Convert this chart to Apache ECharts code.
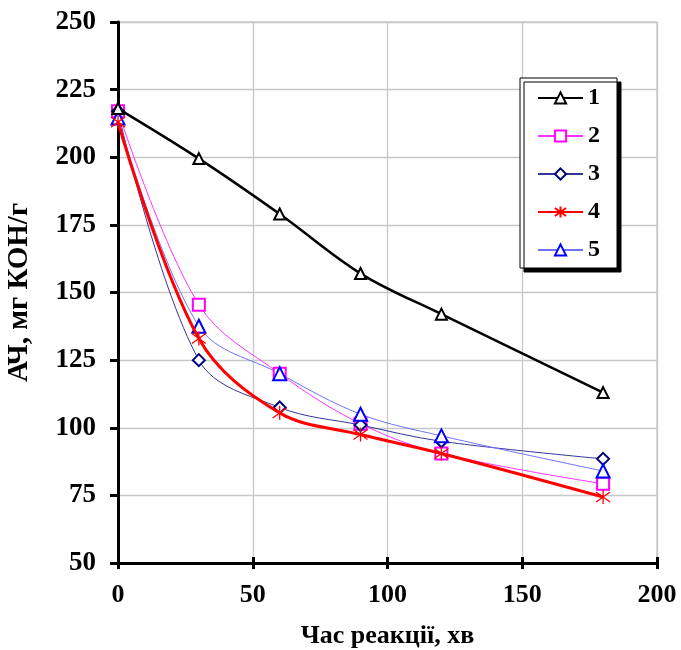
<!DOCTYPE html>
<html><head><meta charset="utf-8">
<script src="https://cdn.jsdelivr.net/npm/echarts@6/dist/echarts.min.js"></script>
<style>html,body{margin:0;padding:0;background:#fff}#c{width:681px;height:650px}</style>
</head><body><div id="c"></div>
<script>
const times = [0, 30, 60, 90, 120, 180];
const s1 = [218, 199.5, 179, 157, 142, 113];
const s2 = [217, 145.5, 120, 101.5, 90.5, 79.3];
const s3 = [217, 125, 107.5, 101, 95, 88.5];
const s4 = [213, 133, 105.5, 97.5, 90.5, 74.4];
const s5 = [214.5, 137.5, 120, 105, 97, 84];
const seriesNames = ['1', '2', '3', '4', '5'];
const yTicks = [50, 75, 100, 125, 150, 175, 200, 225, 250];
const xTicks = [0, 50, 100, 150, 200];

const font = 'Liberation Serif';
const asterisk = 'path://M5,0 L5,10 M1.4,1.4 L8.6,8.6 M8.6,1.4 L1.4,8.6';
function pairs(arr){ return times.map((t,i)=>[t,arr[i]]); }

const chart = echarts.init(document.getElementById('c'), null, {renderer:'canvas'});
const mk = (name, data, lineColor, lineW, symbol, symColor, symSize, z) => ({
  name, type:'line', data: pairs(data), smooth: 0.35,
  lineStyle:{color: lineColor, width: lineW},
  symbol, symbolSize: symSize, z: z,
  itemStyle:{color: symColor, borderColor: symColor, borderWidth: 1.3},
  emphasis:{disabled:true}
});
const opt = {
  animation:false,
  grid:{left:118, right:24, top:22, bottom:87, show:true, borderColor:'#b0b0b0', borderWidth:1,
    containLabel:false, outerBoundsMode:'none'},
  xAxis:[{
    type:'value', min:0, max:200, interval:50,
    name:'Час реакції, хв', nameLocation:'middle', nameGap:60,
    nameTextStyle:{fontFamily:font, fontWeight:'bold', fontSize:26, color:'#000'},
    axisLine:{lineStyle:{color:'#000', width:3}},
    axisTick:{show:true, length:6, lineStyle:{color:'#000', width:3}},
    axisLabel:{fontFamily:font, fontWeight:'bold', fontSize:26, color:'#000', margin:19,
      formatter: v => xTicks.includes(v) ? String(v) : ''},
    splitLine:{show:true, lineStyle:{color:'#c8c8c8', width:1.3}}
  },{
    type:'value', min:0, max:200, interval:50, position:'bottom',
    axisLine:{show:false}, axisLabel:{show:false}, splitLine:{show:false},
    axisTick:{show:true, inside:true, length:6, lineStyle:{color:'#000', width:3}}
  }],
  yAxis:{
    type:'value', min:50, max:250, interval:25,
    name:'АЧ, мг КОН/г', nameLocation:'middle', nameGap:84,
    nameTextStyle:{fontFamily:font, fontWeight:'bold', fontSize:29, color:'#000'},
    axisLine:{show:true, lineStyle:{color:'#000', width:3}},
    axisTick:{show:true, length:8, lineStyle:{color:'#000', width:3}},
    axisLabel:{fontFamily:font, fontWeight:'bold', fontSize:27, color:'#000', margin:22,
      formatter: v => yTicks.includes(v) ? String(v) : ''},
    splitLine:{show:true, lineStyle:{color:'#c8c8c8', width:1.3}}
  },
  legend:{
    left:520, top:78, orient:'vertical',
    data: seriesNames,
    itemWidth:45, itemHeight:14, itemGap:14,
    padding:[8,17,6,17],
    backgroundColor:'#fff', borderColor:'#000', borderWidth:1,
    shadowColor:'#000', shadowBlur:0, shadowOffsetX:4, shadowOffsetY:4,
    textStyle:{fontFamily:font, fontWeight:'bold', fontSize:24, lineHeight:24, color:'#000'},
    selectedMode:false
  },
  series:[
    mk(seriesNames[0], s1, '#000', 2.5, 'emptyTriangle', '#000', 11, 5),
    mk(seriesNames[1], s2, '#ff33ff', 1, 'emptyRect', '#ff00ff', 12, 3),
    mk(seriesNames[2], s3, '#333399', 1, 'emptyDiamond', '#000080', 12, 3),
    mk(seriesNames[3], s4, '#ff0000', 3, asterisk, '#ff0000', 14, 4),
    mk(seriesNames[4], s5, '#7070ff', 1, 'emptyTriangle', '#0000ff', 13, 3)
  ]
};
chart.setOption(opt);
</script></body></html>
